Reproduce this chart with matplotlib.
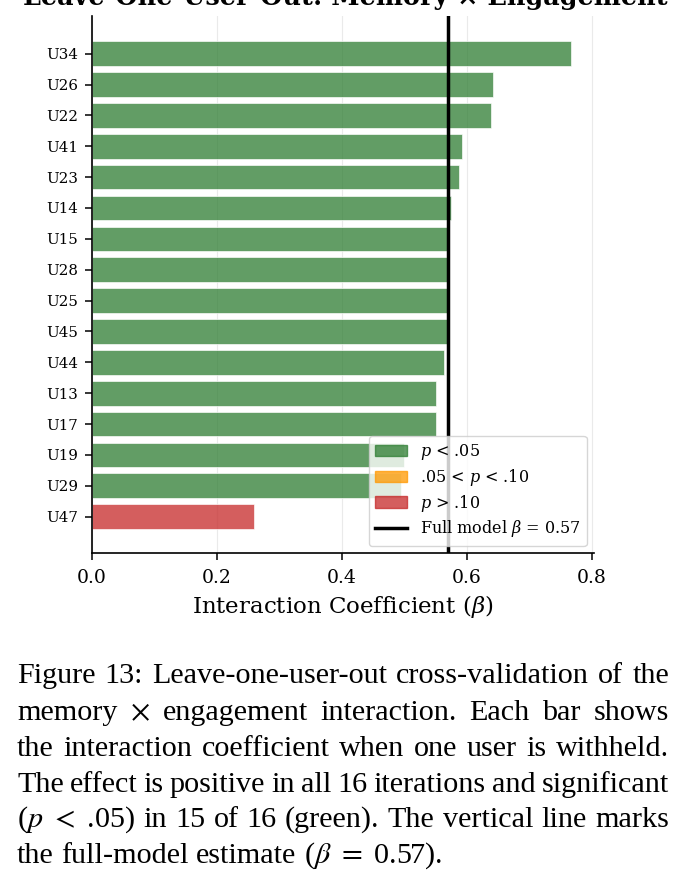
import numpy as np
import matplotlib.pyplot as plt
from matplotlib.patches import Patch
from matplotlib.lines import Line2D

plt.rcParams['font.family'] = 'DejaVu Serif'
plt.rcParams['mathtext.fontset'] = 'dejavuserif'

# leave-one-user-out coefficients (top to bottom as drawn)
users = ['U34', 'U26', 'U22', 'U41', 'U23', 'U14', 'U15', 'U28',
         'U25', 'U45', 'U44', 'U13', 'U17', 'U19', 'U29', 'U47']
coef = [0.767, 0.642, 0.638, 0.592, 0.587, 0.574, 0.570, 0.569,
        0.568, 0.568, 0.563, 0.551, 0.550, 0.499, 0.494, 0.259]
sig = ['sig'] * 15 + ['ns']
full_beta = 0.57

colors = {'sig': '#2E7D32', 'marg': '#FF9800', 'ns': '#C62828'}

fig = plt.figure(figsize=(6.92, 8.85), dpi=100)
ax = fig.add_axes([0.1329, 0.3751, 0.7253, 0.6068])

ypos = np.arange(len(users))[::-1]
ax.barh(ypos, coef, height=0.8, color=[colors[s] for s in sig], alpha=0.75,
        edgecolor='white', linewidth=0.6, zorder=2)
ax.axvline(full_beta, color='black', lw=2.5, zorder=3)

ax.set_yticks(ypos)
ax.set_yticklabels(users, fontsize=10.8)
ax.set_xlim(0, max(coef) * 1.047)
ax.set_ylim(-1.18, 15 + 1.22)
ax.set_xticks([0, 0.2, 0.4, 0.6, 0.8])
ax.set_xticklabels(['0.0', '0.2', '0.4', '0.6', '0.8'], fontsize=13.5)
ax.tick_params(axis='both', length=5, width=1.1, pad=5)
ax.tick_params(axis='x', pad=6.5)
ax.set_xlabel(r'Interaction Coefficient ($\beta$)', fontsize=16.5, labelpad=4)
ax.grid(axis='x', color='#dddddd', lw=0.8, alpha=0.6, zorder=0)
ax.set_axisbelow(True)
for s in ['top', 'right']:
    ax.spines[s].set_visible(False)
ax.spines['left'].set_linewidth(1.2)
ax.spines['bottom'].set_linewidth(1.2)

handles = [Patch(color=colors['sig'], alpha=0.75, label=r'$p$ < .05'),
           Patch(color=colors['marg'], alpha=0.75, label=r'.05 < $p$ < .10'),
           Patch(color=colors['ns'], alpha=0.75, label=r'$p$ > .10'),
           Line2D([0], [0], color='black', lw=2.5, label=r'Full model $\beta$ = 0.57')]
ax.legend(handles=handles, loc='lower right', fontsize=11.5, labelspacing=0.3,
          handlelength=2.0, borderaxespad=0.45)

fig.text(0.4993, 1 - 5 / 885, 'Leave-One-User-Out: Memory \u00d7 Engagement',
         ha='center', va='baseline', fontsize=18.4, fontweight='bold')

# caption, justified like the paper ('~' keeps a space inside one token)
caption = [
    'Figure 13: Leave-one-user-out cross-validation of the',
    r'memory $\times$ engagement interaction.  Each bar shows',
    'the interaction coefficient when one user is withheld.',
    'The effect is positive in all 16 iterations and significant',
    r'($p$~$<$~.05) in 15 of 16 (green). The vertical line marks',
    r'the full-model estimate ($\beta$~$=$~0.57).',
]
baselines = [683, 720, 756, 792, 827, 863]
left, right = 17, 669
W, H = 692, 885
fs = 21.7
renderer = fig.canvas.get_renderer()
for i, (line, yb) in enumerate(zip(caption, baselines)):
    words = [w.replace('~', ' ') for w in line.split()]
    texts = [fig.text(0, 1 - yb / H, w, fontsize=fs, family='Liberation Serif',
                      math_fontfamily='stix', va='baseline', ha='left')
             for w in words]
    widths = [t.get_window_extent(renderer).width for t in texts]
    if i < len(caption) - 1:
        gap = (right - left - sum(widths)) / (len(words) - 1)
    else:
        gap = 0.25 * fs * 100 / 72
    x = left
    for t, w in zip(texts, widths):
        t.set_x(x / W)
        x += w + gap

fig.savefig('out.png', dpi=100)
